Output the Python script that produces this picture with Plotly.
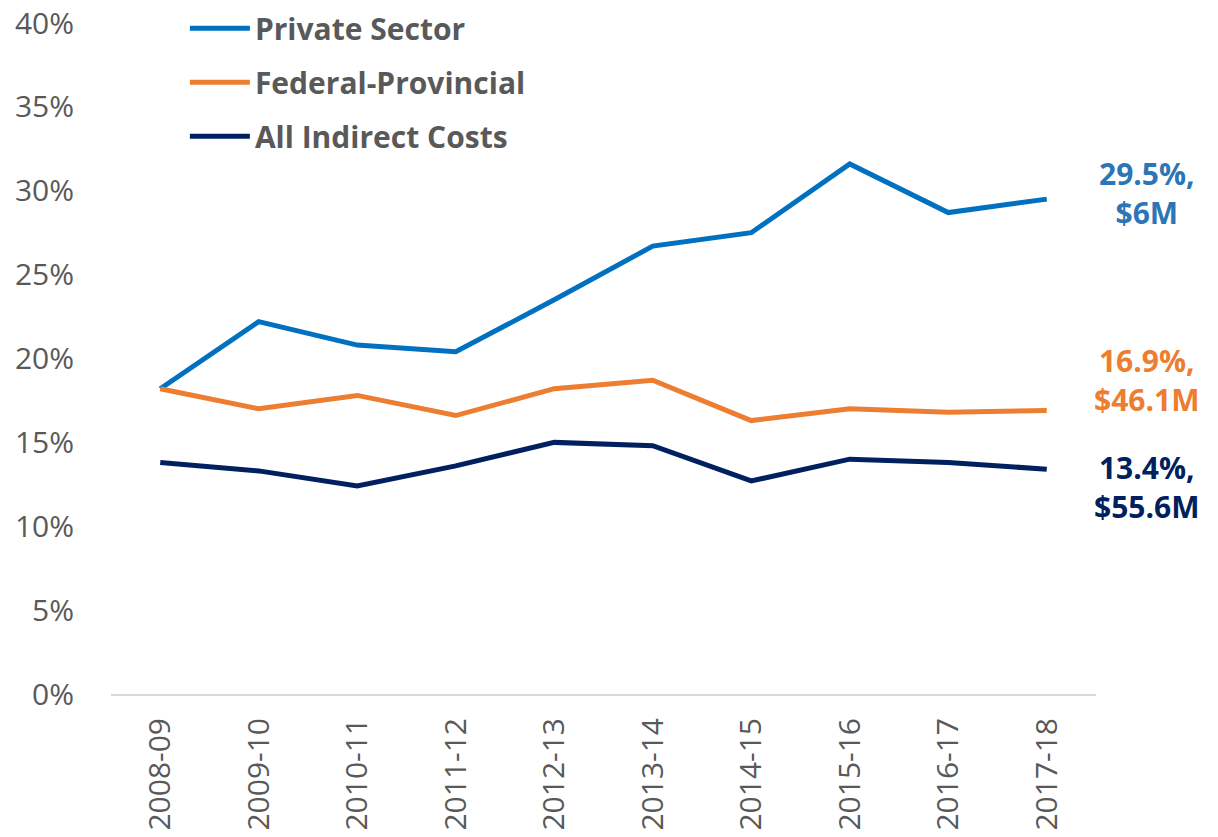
import plotly.graph_objects as go

# Indirect cost rate by funding source, fiscal years
years = ["2008-09", "2009-10", "2010-11", "2011-12", "2012-13",
         "2013-14", "2014-15", "2015-16", "2016-17", "2017-18"]
private_sector = [18.2, 22.2, 20.8, 20.4, 23.5, 26.7, 27.5, 31.6, 28.7, 29.5]
federal_provincial = [18.2, 17.0, 17.8, 16.6, 18.2, 18.7, 16.3, 17.0, 16.8, 16.9]
all_indirect = [13.8, 13.3, 12.4, 13.6, 15.0, 14.8, 12.7, 14.0, 13.8, 13.4]

end_labels = ["29.5%,<br>$6M", "16.9%,<br>$46.1M", "13.4%,<br>$55.6M"]

FONT = "Open Sans"
GREY = "#595959"

series = [
    ("Private Sector", private_sector, "#0070C0", "#2E75B6", 6),
    ("Federal-Provincial", federal_provincial, "#ED7D31", "#ED7D31", 31),
    ("All Indirect Costs", all_indirect, "#002060", "#002060", -18),
]

fig = go.Figure()

for i, (name, vals, color, label_color, yshift) in enumerate(series):
    fig.add_trace(go.Scatter(
        x=years, y=vals, mode="lines", name=name,
        legendgroup=name,
        line=dict(color=color, width=5),
        hoverinfo="skip",
    ))
    # value label to the right of the last point
    fig.add_annotation(
        x=years[-1], y=vals[-1], text="<b>" + end_labels[i] + "</b>",
        showarrow=False, xanchor="center", yanchor="middle",
        xshift=100, yshift=yshift,
        font=dict(family=FONT, size=30, color=label_color),
    )

# page body adds ~8px offset, margins compensate for it
fig.update_layout(
    width=1218, height=837,
    margin=dict(l=103, r=130, t=15, b=151, autoexpand=False),
    paper_bgcolor="white", plot_bgcolor="white",
    font=dict(family=FONT, color=GREY),
    showlegend=True,
    legend=dict(
        x=0.075, y=1.031, xanchor="left", yanchor="top",
        font=dict(family=FONT, size=30, color=GREY, weight="bold"),
        itemwidth=60, tracegroupgap=12,
        bgcolor="rgba(0,0,0,0)",
    ),
    xaxis=dict(
        type="category", range=[-0.5, 9.5],
        showgrid=False, showline=True, linecolor="#D9D9D9", linewidth=2,
        ticks="", tickangle=-90, ticklabelstandoff=10,
        ticklabeloverflow="allow",
        tickfont=dict(family=FONT, size=30, color=GREY),
    ),
    yaxis=dict(
        range=[0, 40], dtick=5, ticksuffix="%",
        showgrid=False, showline=False, zeroline=False,
        ticks="", ticklabelstandoff=36,
        ticklabeloverflow="allow",
        tickfont=dict(family=FONT, size=30, color=GREY),
    ),
)

fig.write_html("out.html")
